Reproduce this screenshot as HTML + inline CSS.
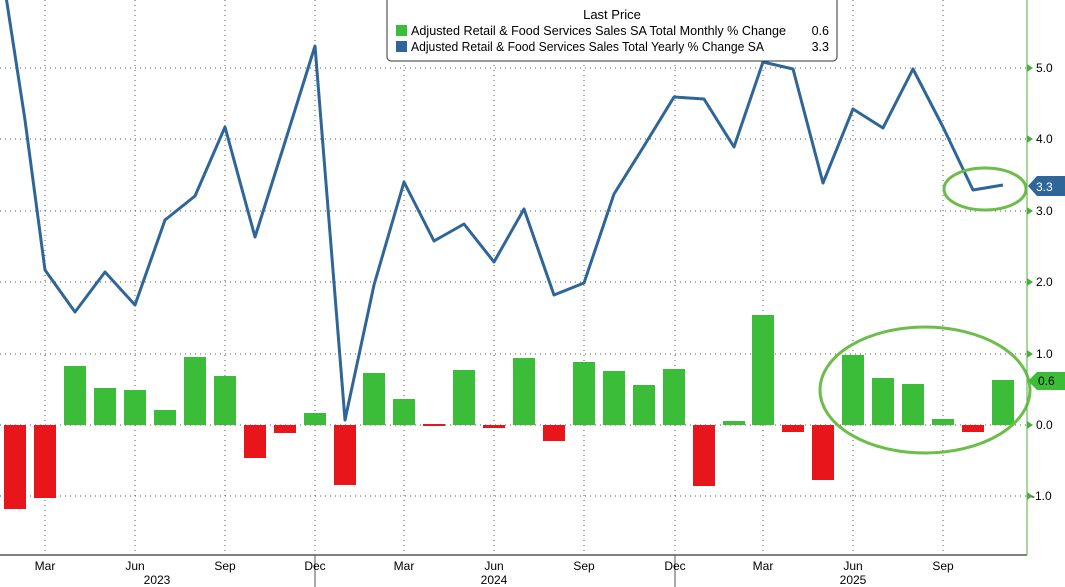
<!DOCTYPE html>
<html><head><meta charset="utf-8"><style>
html,body{margin:0;padding:0;background:#fff;width:1065px;height:587px;overflow:hidden}
text{font-family:"Liberation Sans","DejaVu Sans",sans-serif}
</style></head><body>
<svg width="1065" height="587" viewBox="0 0 1065 587" xmlns="http://www.w3.org/2000/svg">
<g stroke="#555" stroke-width="1" stroke-dasharray="1,4">
<line x1="45" y1="0" x2="45" y2="555"/><line x1="135" y1="0" x2="135" y2="555"/><line x1="225" y1="0" x2="225" y2="555"/><line x1="315" y1="0" x2="315" y2="555"/>
<line x1="404" y1="0" x2="404" y2="555"/><line x1="494" y1="0" x2="494" y2="555"/><line x1="584" y1="0" x2="584" y2="555"/><line x1="675" y1="0" x2="675" y2="555"/>
<line x1="763" y1="0" x2="763" y2="555"/><line x1="853" y1="0" x2="853" y2="555"/><line x1="943" y1="0" x2="943" y2="555"/>
<line x1="0" y1="68" x2="1027" y2="68"/><line x1="0" y1="139" x2="1027" y2="139"/><line x1="0" y1="211" x2="1027" y2="211"/><line x1="0" y1="282" x2="1027" y2="282"/><line x1="0" y1="354" x2="1027" y2="354"/><line x1="0" y1="425" x2="1027" y2="425"/><line x1="0" y1="496" x2="1027" y2="496"/>
</g>
<g fill="#e8161b">
<rect x="4" y="425" width="22" height="84"/><rect x="34" y="425" width="22" height="73"/>
<rect x="244" y="425" width="22" height="33"/><rect x="274" y="425" width="22" height="8"/>
<rect x="334" y="425" width="22" height="60"/><rect x="423" y="424" width="22" height="2"/>
<rect x="483" y="425" width="22" height="3"/><rect x="543" y="425" width="22" height="16"/>
<rect x="693" y="425" width="22" height="61"/><rect x="782" y="425" width="22" height="7"/>
<rect x="812" y="425" width="22" height="55"/><rect x="962" y="425" width="22" height="7"/>
</g>
<g fill="#3cbd3a">
<rect x="64" y="366" width="22" height="59"/><rect x="94" y="388" width="22" height="37"/>
<rect x="124" y="390" width="22" height="35"/><rect x="154" y="410" width="22" height="15"/>
<rect x="184" y="357" width="22" height="68"/><rect x="214" y="376" width="22" height="49"/>
<rect x="304" y="413" width="22" height="12"/><rect x="363" y="373" width="22" height="52"/>
<rect x="393" y="399" width="22" height="26"/><rect x="453" y="370" width="22" height="55"/>
<rect x="513" y="358" width="22" height="67"/><rect x="573" y="362" width="22" height="63"/>
<rect x="603" y="371" width="22" height="54"/><rect x="633" y="385" width="22" height="40"/>
<rect x="663" y="369" width="22" height="56"/><rect x="723" y="421" width="22" height="4"/>
<rect x="752" y="315" width="22" height="110"/><rect x="842" y="355" width="22" height="70"/>
<rect x="872" y="378" width="22" height="47"/><rect x="902" y="384" width="22" height="41"/>
<rect x="932" y="419" width="22" height="6"/><rect x="992" y="380" width="22" height="45"/>
</g>
<polyline fill="none" stroke="#2f6699" stroke-width="3" stroke-linejoin="round" points="5,-10 25,120 45,270 75,312 105,272 135,305 165,220 195,196 225,127 255,237 285,142 315,46 345,420 374,285 404,182 434,241 464,224 494,262 524,209 554,295 584,283 614,194 644,146 674,97 704,99 734,147 763,62 793,69 823,183 853,109 883,128 913,69 943,127 973,190 1003,185"/>
<ellipse cx="985" cy="189" rx="41" ry="21" fill="none" stroke="#6cbd4a" stroke-width="3"/>
<ellipse cx="925" cy="390" rx="105" ry="63" fill="none" stroke="#6cbd4a" stroke-width="3"/>
<line x1="0" y1="555" x2="1027" y2="555" stroke="#000" stroke-width="1"/>
<line x1="1027" y1="0" x2="1027" y2="555" stroke="#4caf3a" stroke-width="1"/>
<line x1="315" y1="555" x2="315" y2="587" stroke="#555"/><line x1="675" y1="555" x2="675" y2="587" stroke="#555"/>
<g fill="#4caf3a">
<path d="M1027,64 l6,4 l-6,4z"/><path d="M1027,135 l6,4 l-6,4z"/><path d="M1027,207 l6,4 l-6,4z"/><path d="M1027,278 l6,4 l-6,4z"/><path d="M1027,350 l6,4 l-6,4z"/><path d="M1027,421 l6,4 l-6,4z"/><path d="M1027,492 l6,4 l-6,4z"/>
</g>
<g font-size="12" fill="#000">
<text x="1036" y="72">5.0</text><text x="1036" y="143">4.0</text><text x="1036" y="215">3.0</text><text x="1036" y="286">2.0</text><text x="1036" y="358">1.0</text><text x="1036" y="429">0.0</text><text x="1031" y="500">-1.0</text>
</g>
<path d="M1028,186 l9,-10 h28 v20 h-28z" fill="#2f6699"/><text x="1036" y="191" font-size="12" fill="#fff">3.3</text>
<path d="M1028,381 l9,-9 h28 v18 h-28z" fill="#3cbd3a"/><text x="1038" y="385" font-size="12" fill="#000">0.6</text>
<g font-size="12" fill="#000" text-anchor="middle">
<text x="45" y="570">Mar</text><text x="135" y="570">Jun</text><text x="225" y="570">Sep</text><text x="315" y="570">Dec</text>
<text x="404" y="570">Mar</text><text x="494" y="570">Jun</text><text x="584" y="570">Sep</text><text x="675" y="570">Dec</text>
<text x="763" y="570">Mar</text><text x="853" y="570">Jun</text><text x="943" y="570">Sep</text>
<text x="157" y="584">2023</text><text x="494" y="584">2024</text><text x="853" y="584">2025</text>
</g>
<rect x="387" y="-5" width="450" height="66" rx="4" fill="#fff" stroke="#333" stroke-width="1"/>
<text x="612" y="19" font-size="13" text-anchor="middle">Last Price</text>
<rect x="396" y="25" width="11" height="11" fill="#3cbd3a"/>
<rect x="396" y="41" width="11" height="11" fill="#2f6699"/>
<text x="411" y="35" font-size="12.5" textLength="375" lengthAdjust="spacingAndGlyphs">Adjusted Retail &amp; Food Services Sales SA Total Monthly % Change</text>
<text x="829" y="35" font-size="12.5" text-anchor="end">0.6</text>
<text x="411" y="51" font-size="12.5" textLength="353" lengthAdjust="spacingAndGlyphs">Adjusted Retail &amp; Food Services Sales Total Yearly % Change SA</text>
<text x="829" y="51" font-size="12.5" text-anchor="end">3.3</text>
</svg>
</body></html>
